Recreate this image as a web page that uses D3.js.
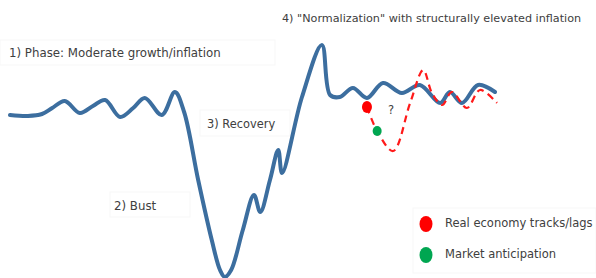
<!DOCTYPE html>
<html>
<head>
<meta charset="utf-8">
<script src="https://cdn.jsdelivr.net/npm/d3@7"></script>
<style>
  body { margin: 0; background: #fff; }
  text { font-family: "DejaVu Sans", Verdana, sans-serif; fill: #404040; }
</style>
</head>
<body>
<script>
const width = 596, height = 278

// main cycle path (time t 0..100, level)
const cycleT = [0, 3.7, 6.6, 8.7, 11.3, 14.4, 17.1, 19.6, 22.7, 25.4, 27.8, 31.3, 34, 35.9, 38.8, 41.6, 43.3, 44.3, 45.6, 48, 50.3, 51.6, 53.6, 55.3, 56.1, 60.2, 64.3, 66, 68, 70.7, 73.6, 76.9, 80.8, 84.5, 88.7, 90.7, 93.2, 96.5, 100]
const cycleLevel = [0, -1, 1, 7, 14, 2, 9, 15, -2, 7, 17, 0, 23, 3, -65, -125, -155, -162, -155, -115, -80, -97, -65, -35, -58, 18, 70, 20, 18, 27, 17, 32, 22, 30, 12, 23, 12, 30, 23]
// alternative (dashed) path after the second dip
const altT = [73.6, 75.7, 79, 82.5, 85.2, 87, 89.1, 91.1, 94.2, 96.9, 100.4]
const altLevel = [8, -16, -36, 12, 45, 22, 10, 23, 7, 25, 12]
// markers: real economy, market anticipation
const markerT = [73.6, 75.7]
const markerLevel = [8, -16]

const legendLabels = ["Real economy tracks/lags", "Market anticipation"]
const legendColors = ["#ff0000", "#00a651"]

const x = d3.scaleLinear().domain([0, 100]).range([10, 495])
const y = d3.scaleLinear().domain([-165, 115]).range([280, 0])

const svg = d3.select('body').append('svg')
  .attr('width', width)
  .attr('height', height)

// faint text frames
const frames = [[0, 40, 275, 25], [200, 110, 90, 26], [110, 192, 80, 25], [413, 208, 183, 65]]
svg.selectAll('.frame').data(frames).enter().append('rect')
  .attr('x', d => d[0]).attr('y', d => d[1])
  .attr('width', d => d[2]).attr('height', d => d[3])
  .attr('fill', 'none').attr('stroke', '#f7f7f7')

const line = d3.line()
  .x(d => x(d[0]))
  .y(d => y(d[1]))
  .curve(d3.curveCatmullRom.alpha(0.5))

svg.append('path')
  .datum(cycleT.map((t, i) => [t, cycleLevel[i]]))
  .attr('d', line)
  .attr('fill', 'none')
  .attr('stroke', '#3c6e9f')
  .attr('stroke-width', 4)
  .attr('stroke-linejoin', 'round')
  .attr('stroke-linecap', 'round')

svg.append('path')
  .datum(altT.map((t, i) => [t, altLevel[i]]))
  .attr('d', line)
  .attr('fill', 'none')
  .attr('stroke', '#ff1a1a')
  .attr('stroke-width', 2.2)
  .attr('stroke-dasharray', '7,5')

svg.selectAll('.marker').data(markerT).enter().append('ellipse')
  .attr('class', 'marker')
  .attr('cx', d => x(d))
  .attr('cy', (d, i) => y(markerLevel[i]))
  .attr('rx', (d, i) => i ? 4.5 : 5)
  .attr('ry', (d, i) => i ? 5 : 6)
  .attr('fill', (d, i) => legendColors[i])

svg.append('text').attr('x', 388).attr('y', 114).attr('font-size', 11.5).text('?')

const labels = [
  [9, 57, 11.8, '1) Phase: Moderate growth/inflation'],
  [282, 22, 11.2, '4) "Normalization" with structurally elevated inflation'],
  [207, 128, 11.4, '3) Recovery'],
  [114, 210, 11.8, '2) Bust']
]
svg.selectAll('.label').data(labels).enter().append('text')
  .attr('class', 'label')
  .attr('x', d => d[0]).attr('y', d => d[1])
  .attr('font-size', d => d[2])
  .text(d => d[3])

const legend = svg.selectAll('.legend').data(legendLabels).enter().append('g')
  .attr('class', 'legend')
  .attr('transform', (d, i) => `translate(426, ${224 + i * 31})`)
legend.append('ellipse')
  .attr('rx', 6.5).attr('ry', 8)
  .attr('fill', (d, i) => legendColors[i])
legend.append('text')
  .attr('x', 19).attr('y', 3)
  .attr('font-size', 11.5)
  .text(d => d)
</script>
</body>
</html>
